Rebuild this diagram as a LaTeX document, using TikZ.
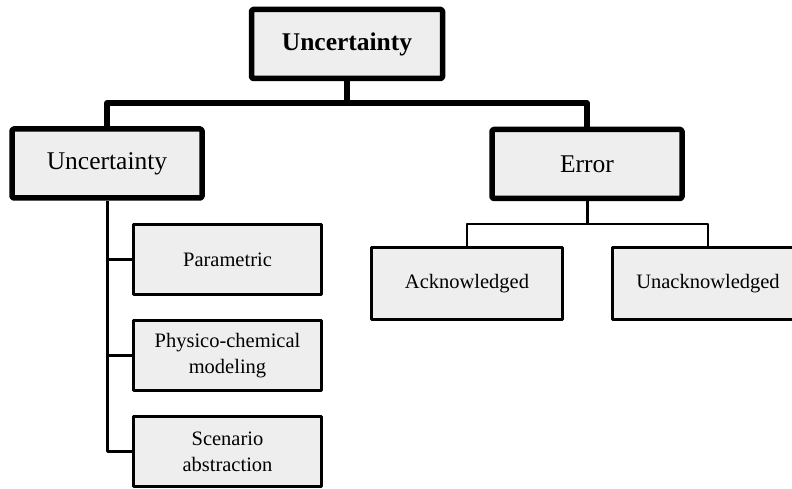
\documentclass[tikz,border=0pt]{standalone}
\usepackage{fontspec}
\setmainfont{Liberation Serif}
\begin{document}
\begin{tikzpicture}[x=1pt,y=-1pt,
  line join=round,
  bigbox/.style={draw, fill=boxgray, line width=5.5pt, rounded corners=1.5pt,
    minimum width=190pt, minimum height=69pt, inner sep=0pt,
    font=\fontsize{25.5}{30}\selectfont},
  smallbox/.style={draw, fill=boxgray, line width=2.6pt,
    minimum width=190pt, minimum height=71pt, inner sep=0pt, align=center,
    font=\fontsize{20.5}{26}\selectfont},
  heavy/.style={line width=5.5pt},
  medium/.style={line width=3pt},
  light/.style={line width=2.6pt}]
\definecolor{boxgray}{HTML}{EEEEEE}
\useasboundingbox (0,0) rectangle (792,489);
\clip (0,0) rectangle (792,489);

% category boxes
\node[bigbox, minimum width=191pt] (root) at (347,44) {\textbf{Uncertainty}};
\node[bigbox] (unc) at (107,163.5) {Uncertainty};
\node[bigbox] (err) at (587,164) {Error};

% sub-categories of uncertainty
\node[smallbox, minimum width=188.5pt, minimum height=70.5pt] (param) at (227.5,259.5) {Parametric};
\node[smallbox, minimum width=188.5pt, minimum height=70.5pt] (phys) at (227.5,355.5) {Physico-chemical\\modeling};
\node[smallbox, minimum width=188.5pt, minimum height=70.5pt] (scen) at (227.5,451.5) {Scenario\\abstraction};

% sub-categories of error
\node[smallbox, minimum width=191.5pt, minimum height=71.5pt] (ack) at (467,283.5) {Acknowledged};
\node[smallbox, minimum width=191.5pt, minimum height=71.5pt] (unack) at (708,283.5) {Unacknowledged};

% junction points
\coordinate (hub) at (347,103);
\coordinate (errhub) at (587,224);

% top-level tree
\draw[heavy] (root.south) -- (hub);
\draw[heavy] (unc.north) |- (hub) -| (err.north);

% uncertainty branch
\draw[medium] (unc.south) |- (scen.west);
\draw[medium] (unc.south |- param.west) -- (param.west);
\draw[medium] (unc.south |- phys.west) -- (phys.west);

% error branch
\draw[medium] (err.south) -- (errhub);
\draw[light] (ack.north) |- (errhub) -| (unack.north);
\end{tikzpicture}
\end{document}
